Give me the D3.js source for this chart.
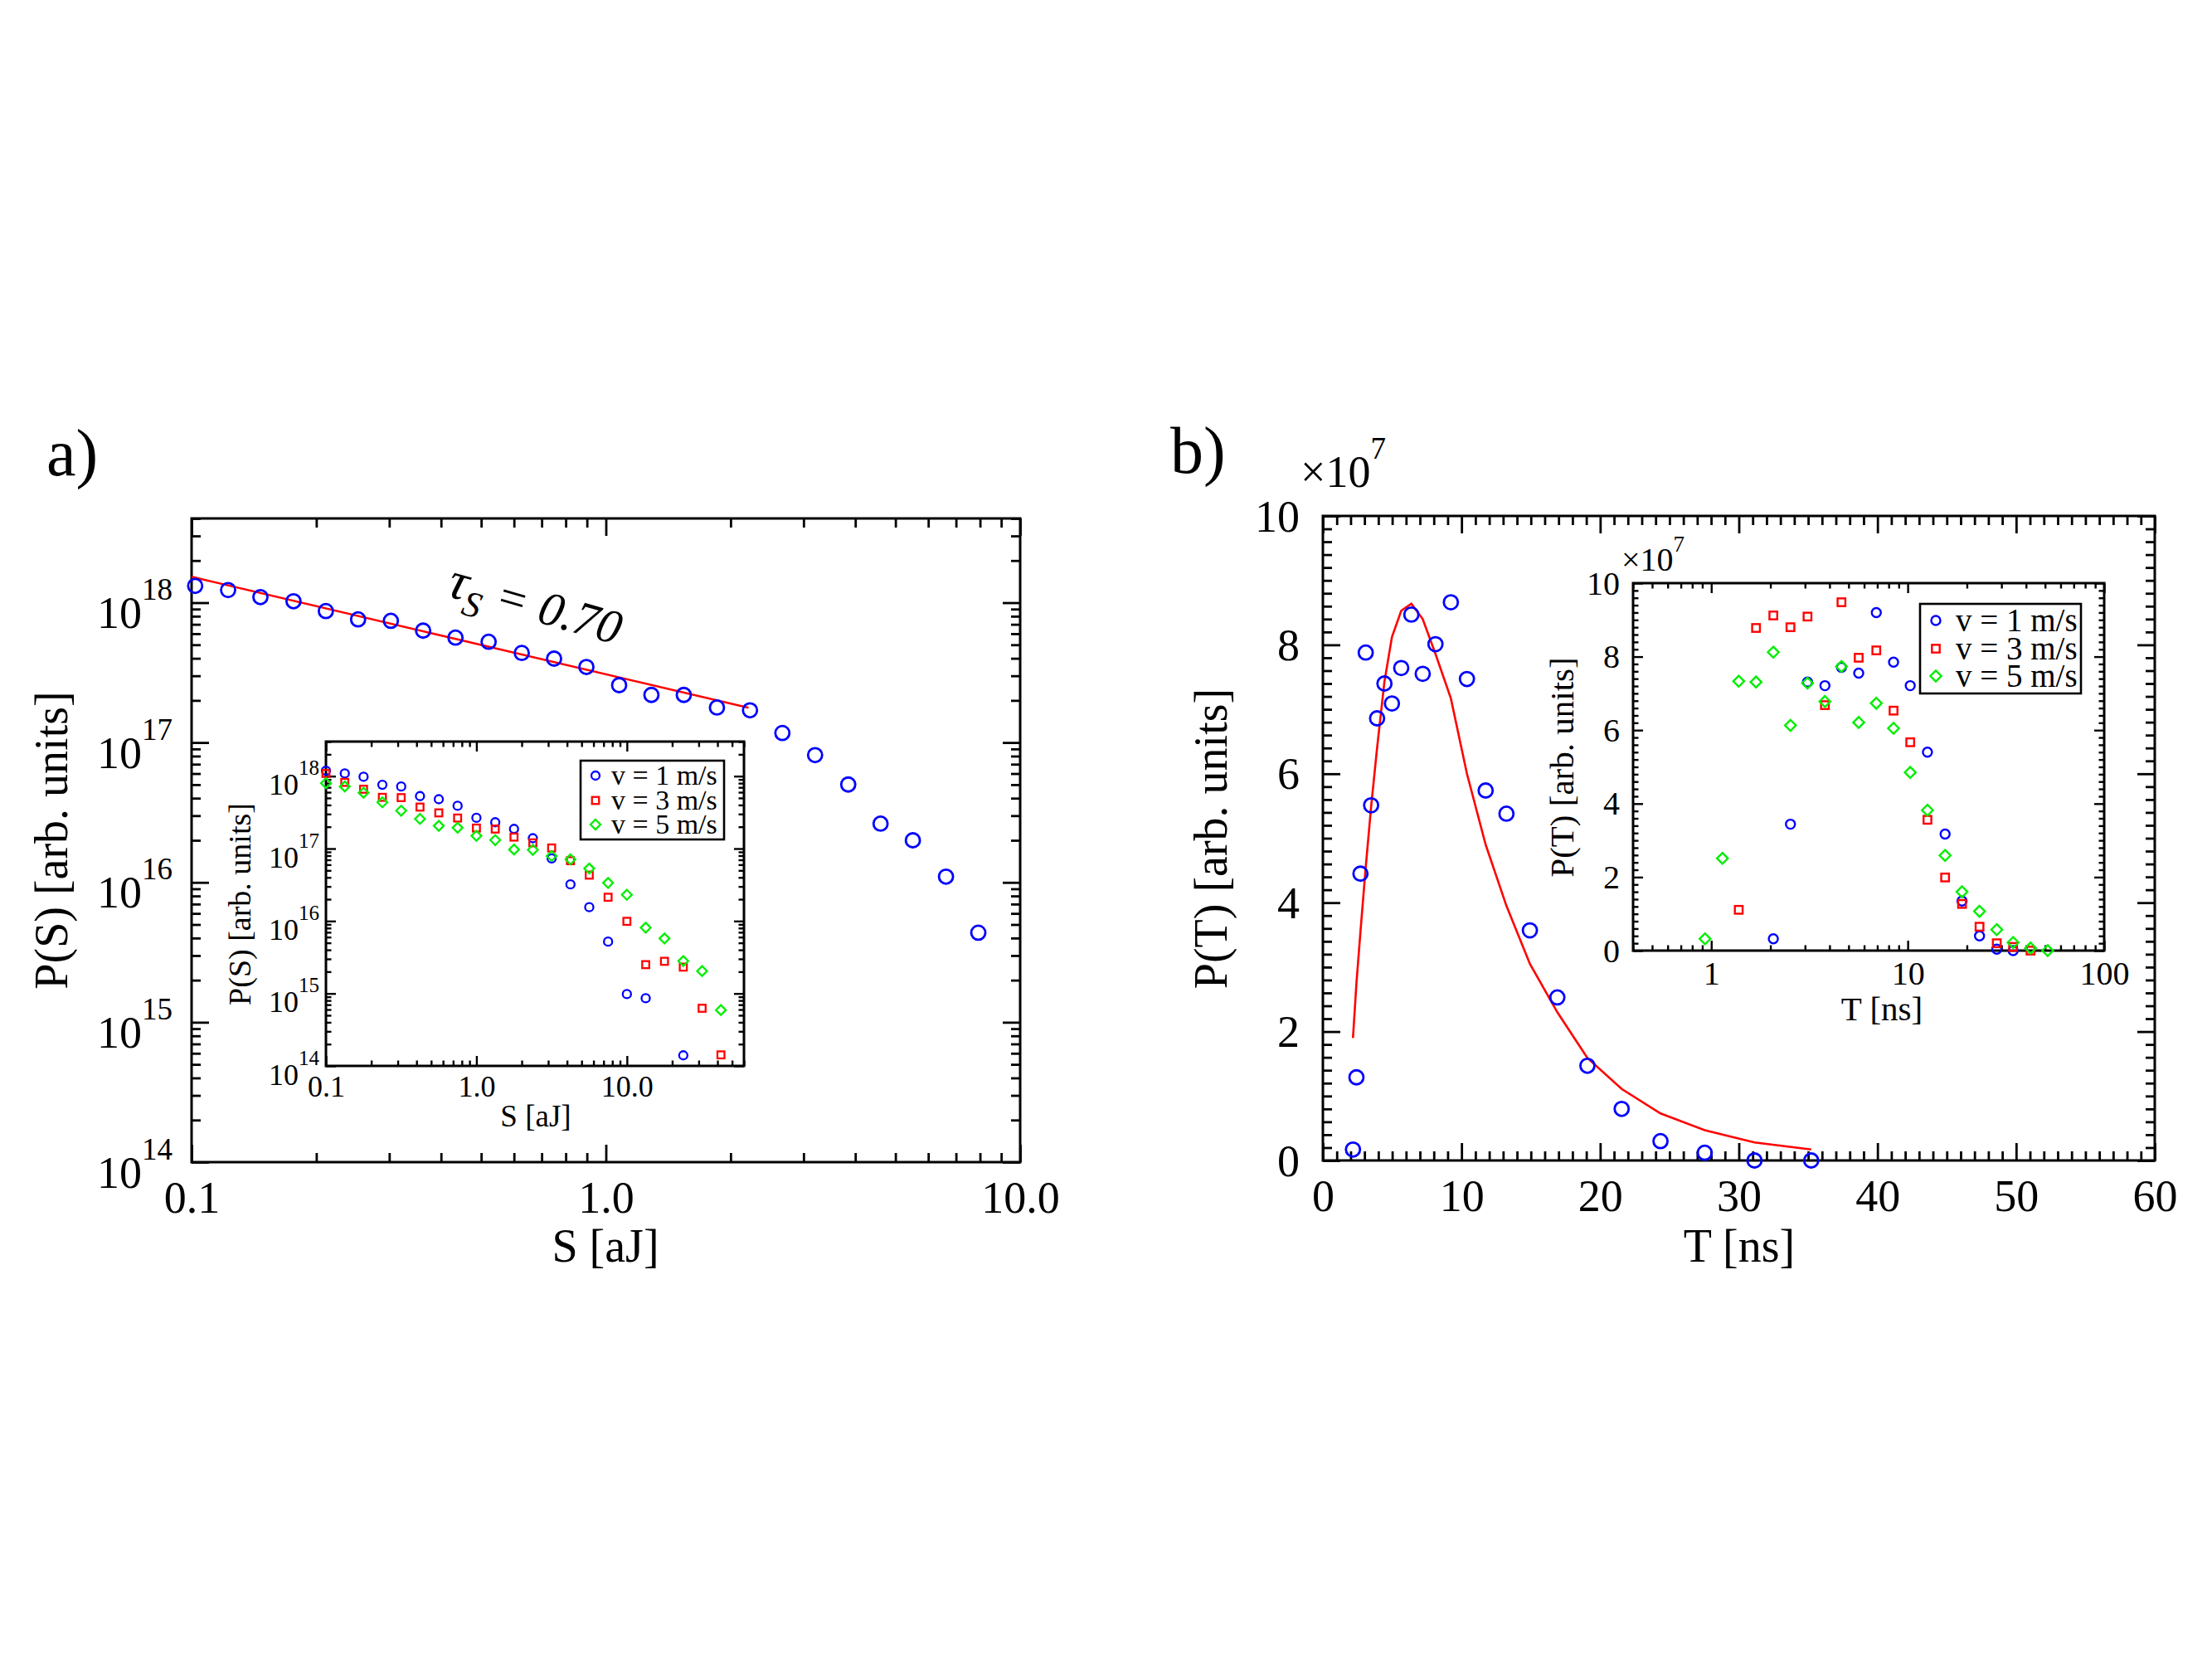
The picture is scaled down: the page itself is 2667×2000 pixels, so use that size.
<!DOCTYPE html>
<html>
<head>
<meta charset="utf-8">
<script src="https://cdn.jsdelivr.net/npm/d3@7"></script>
<style>
  body { margin: 0; background: #fff; }
  svg { display: block; }
</style>
</head>
<body>
<script>
// ---- panel a: avalanche size distribution ----
const sBins = [0.102, 0.1225, 0.1466, 0.1762, 0.2109, 0.2523, 0.3027, 0.3622, 0.4335, 0.5212, 0.6266, 0.7499, 0.8974,
  1.0765, 1.288, 1.542, 1.854, 2.228, 2.667, 3.199, 3.846, 4.603, 5.508, 6.622, 7.925];
const pS = [1.318e18, 1.23e18, 1.096e18, 1.023e18, 8.71e17, 7.59e17, 7.41e17, 6.31e17, 5.62e17, 5.25e17, 4.37e17, 3.98e17, 3.47e17,
  2.57e17, 2.19e17, 2.19e17, 1.78e17, 1.70e17, 1.17e17, 8.13e16, 5.01e16, 2.63e16, 2.0e16, 1.10e16, 4.37e15];
const fitS = [0.1, 2.21];
const fitPS = [1.53e18, 1.77e17];
const tauValue = "0.70";

// inset a, three driving velocities (null = no point)
const insetS = [0.1, 0.1334, 0.1778, 0.2371, 0.3162, 0.4217, 0.5623, 0.7499, 1.0, 1.334, 1.778, 2.371, 3.162, 4.217,
  5.623, 7.499, 10.0, 13.34, 17.78, 23.71, 31.62, 42.17];
const insetPS_v1 = [1.19e18, 1.09e18, 9.8e17, 7.6e17, 7.2e17, 5.3e17, 4.8e17, 3.9e17, 2.66e17, 2.31e17, 1.87e17, 1.39e17,
  7.3e16, 3.2e16, 1.55e16, 5.2e15, 9.8e14, 8.6e14, null, 1.4e14, null, null];
const insetPS_v3 = [1.09e18, 8.2e17, 6.6e17, 5.1e17, 5.05e17, 3.74e17, 3.11e17, 2.64e17, 1.92e17, 1.86e17, 1.44e17, 1.20e17,
  1.02e17, 6.8e16, 4.3e16, 2.13e16, 9.9e15, 2.5e15, 2.78e15, 2.31e15, 6.25e14, 1.42e14];
const insetPS_v5 = [8.0e17, 7.2e17, 5.9e17, 4.35e17, 3.34e17, 2.57e17, 2.06e17, 1.94e17, 1.50e17, 1.31e17, 9.7e16, 9.6e16,
  7.9e16, 7.1e16, 5.3e16, 3.36e16, 2.3e16, 8.1e15, 5.75e15, 2.8e15, 2.04e15, 5.9e14];

// ---- panel b: duration distribution (values in units of 10^7) ----
const tBins = [2.17, 2.42, 2.71, 3.09, 3.48, 3.91, 4.44, 4.98, 5.65, 6.38, 7.20, 8.12, 9.23, 10.39, 11.74, 13.24,
  14.93, 16.91, 19.08, 21.55, 24.35, 27.54, 31.13, 35.22];
const pT = [0.17, 1.29, 4.45, 7.88, 5.51, 6.86, 7.40, 7.09, 7.64, 8.47, 7.55, 8.01, 8.66, 7.47, 5.74, 5.38,
  3.57, 2.53, 1.47, 0.80, 0.30, 0.12, 0.0, 0.0];
const fitPT = [1.90, 2.75, 3.55, 4.55, 5.49, 6.40, 7.43, 8.12, 8.53, 8.64, 8.40, 7.86, 7.17, 6.0, 4.9, 3.95,
  3.05, 2.30, 1.59, 1.11, 0.73, 0.47, 0.28, 0.17];

// inset b
const insetT = [0.93, 1.14, 1.38, 1.69, 2.07, 2.53, 3.09, 3.79, 4.60, 5.63, 6.92, 8.47, 10.3, 12.6, 15.5, 18.9,
  23.2, 28.4, 34.4, 42.2, 51.6];
const insetPT_v1 = [null, null, null, null, 0.32, 3.44, 7.31, 7.21, 7.71, 7.55, 9.20, 7.85, 7.21, 5.40, 3.17, 1.35,
  0.40, 0.04, 0.0, null, null];
const insetPT_v3 = [null, null, 1.11, 8.78, 9.12, 8.80, 9.09, 6.68, 9.48, 7.97, 8.17, 6.53, 5.67, 3.56, 1.99, 1.27,
  0.65, 0.20, 0.10, 0.0, null];
const insetPT_v5 = [0.32, 2.51, 7.33, 7.31, 8.12, 6.13, 7.28, 6.78, 7.73, 6.21, 6.73, 6.05, 4.85, 3.82, 2.59, 1.60,
  1.07, 0.57, 0.22, 0.07, 0.0];

const legendNames = ["v = 1 m/s", "v = 3 m/s", "v = 5 m/s"];
const seriesColors = ["#0000ff", "#ff0000", "#00ee00"];
const seriesMarks = ["circle", "square", "diamond"];

const FONT = "'Liberation Serif', 'Times New Roman', Times, serif";

const svg = d3.select("body").append("svg")
  .attr("width", 2667)
  .attr("height", 2000)
  .style("background", "#fff");

const isPow10 = d => Math.abs(Math.log10(d) - Math.round(Math.log10(d))) < 1e-9;
const isMult = m => d => Math.abs(d / m - Math.round(d / m)) < 1e-9;

// four-sided frame with inward ticks, labels on bottom and left
function drawAxes(x, y, o) {
  const [xl, xr] = x.range();
  const [yb, yt] = y.range();
  const g = svg.append("g").attr("font-family", FONT);
  const xs = x.ticks(o.xn), ys = y.ticks(o.yn);
  const xMaj = xs.filter(o.xMajor), xMin = xs.filter(d => !o.xMajor(d));
  const yMaj = ys.filter(o.yMajor), yMin = ys.filter(d => !o.yMajor(d));

  const sides = [
    [() => d3.axisBottom(x), `translate(0,${yb})`, xMaj, xMin, "x"],
    [() => d3.axisTop(x), `translate(0,${yt})`, xMaj, xMin, null],
    [() => d3.axisLeft(y), `translate(${xl},0)`, yMaj, yMin, "y"],
    [() => d3.axisRight(y), `translate(${xr},0)`, yMaj, yMin, null]
  ];
  sides.forEach(([make, tr, maj, min, lab]) => {
    g.append("g").attr("transform", tr)
      .call(make().tickValues(min).tickSizeInner(-o.minor).tickSizeOuter(0).tickFormat(""));
    const a = g.append("g").attr("transform", tr)
      .call(make().tickValues(maj).tickSizeInner(-o.major).tickSizeOuter(0)
        .tickPadding(lab === "y" ? o.yPad : 0)
        .tickFormat(lab === "x" ? o.xFmt : lab === "y" ? (o.yPow ? "" : o.yFmt) : ""));
    a.attr("font-family", FONT);
    if (lab === "x") {
      a.attr("font-size", o.xfs);
      a.selectAll(".tick text").attr("y", o.xLabelY).attr("dy", 0);
    }
    if (lab === "y") {
      a.attr("font-size", o.yfs);
      a.selectAll(".tick text").attr("dy", o.yDy);
      if (o.yPow) {
        a.selectAll(".tick text").each(function (d) {
          const t = d3.select(this);
          t.append("tspan").text("10");
          t.append("tspan").attr("font-size", o.supFs).attr("dy", -o.supRaise)
            .text(Math.round(Math.log10(d)));
        });
      }
    }
  });
  g.selectAll(".domain").remove();
  g.selectAll(".tick line").attr("stroke", "#000").attr("stroke-width", o.tw);
  g.selectAll(".tick text").attr("fill", "#000");

  svg.append("rect")
    .attr("x", xl).attr("y", yt)
    .attr("width", xr - xl).attr("height", yb - yt)
    .attr("fill", "none").attr("stroke", "#000").attr("stroke-width", o.fw);
}

function marker(g, type, cx, cy, s, color, sw) {
  if (type === "circle") {
    g.append("circle").attr("cx", cx).attr("cy", cy).attr("r", s)
      .attr("fill", "none").attr("stroke", color).attr("stroke-width", sw);
  } else if (type === "square") {
    g.append("rect").attr("x", cx - s * 0.85).attr("y", cy - s * 0.85)
      .attr("width", s * 1.7).attr("height", s * 1.7)
      .attr("fill", "none").attr("stroke", color).attr("stroke-width", sw);
  } else {
    const r = s * 1.2;
    g.append("path").attr("d", `M${cx},${cy - r}L${cx + r},${cy}L${cx},${cy + r}L${cx - r},${cy}Z`)
      .attr("fill", "none").attr("stroke", color).attr("stroke-width", sw);
  }
}

function series(x, y, xs, ys, type, s, color, sw) {
  const g = svg.append("g");
  xs.forEach((v, i) => {
    if (ys[i] === null || ys[i] === undefined) return;
    marker(g, type, x(v), y(ys[i]), s, color, sw);
  });
}

function label(x, y, str, fs, opts = {}) {
  const t = svg.append("text")
    .attr("x", x).attr("y", y)
    .attr("font-family", FONT).attr("font-size", fs)
    .attr("text-anchor", opts.anchor || "middle")
    .attr("fill", "#000")
    .text(str);
  if (opts.rotate) t.attr("transform", `rotate(${opts.rotate},${x},${y})`);
  return t;
}

function timesTen(x, y, fs, supFs, raise, exp) {
  const t = svg.append("text").attr("x", x).attr("y", y)
    .attr("font-family", FONT).attr("font-size", fs).attr("fill", "#000");
  t.append("tspan").text("\u00d710");
  t.append("tspan").attr("font-size", supFs).attr("dy", -raise).text(exp);
}

function legend(x0, y0, w, h, symX, textX, rows, fs, s, sw) {
  svg.append("rect").attr("x", x0).attr("y", y0).attr("width", w).attr("height", h)
    .attr("fill", "#fff").attr("stroke", "#000").attr("stroke-width", 2.6);
  const g = svg.append("g");
  legendNames.forEach((n, i) => {
    marker(g, seriesMarks[i], symX, rows[i], s, seriesColors[i], sw);
    g.append("text").attr("x", textX).attr("y", rows[i] + fs * 0.33)
      .attr("font-family", FONT).attr("font-size", fs).attr("fill", "#000").text(n);
  });
}

// ================= panel a =================
const xA = d3.scaleLog().domain([0.1, 10]).range([231, 1230]);
const yA = d3.scaleLog().domain([1e14, 4e18]).range([1401, 625]);
drawAxes(xA, yA, {
  xn: 10, yn: 10, xMajor: isPow10, yMajor: isPow10,
  major: 21, minor: 11, tw: 2.8, fw: 3,
  xFmt: d => d < 1 ? String(d) : d.toFixed(1), xfs: 54, xLabelY: 61,
  yPow: true, yfs: 54, yPad: 23, yDy: 30, supFs: 37, supRaise: 34
});
svg.append("path")
  .datum(fitS.map((s, i) => [s, fitPS[i]]))
  .attr("d", d3.line().x(d => xA(d[0])).y(d => yA(d[1])))
  .attr("fill", "none").attr("stroke", "#ff0000").attr("stroke-width", 2.6);
series(xA, yA, sBins, pS, "circle", 8.5, "#0000ff", 2.8);

const ann = svg.append("text")
  .attr("transform", "translate(537,718) rotate(16)")
  .attr("font-family", FONT).attr("font-style", "italic").attr("fill", "#000");
ann.append("tspan").attr("font-size", 64).text("\u03c4");
ann.append("tspan").attr("font-size", 44).attr("dy", 16).text("S");
ann.append("tspan").attr("font-size", 58).attr("dy", -16).text(" = " + tauValue);

label(730, 1521, "S [aJ]", 56);
label(81, 1013, "P(S) [arb. units]", 56, { rotate: -90 });
label(56, 573, "a)", 80, { anchor: "start" });

// inset a
const xAi = d3.scaleLog().domain([0.1, 60]).range([393, 897]);
const yAi = d3.scaleLog().domain([1e14, 3e18]).range([1285, 894]);
svg.append("rect").attr("x", 393).attr("y", 894).attr("width", 504).attr("height", 391).attr("fill", "#fff");
drawAxes(xAi, yAi, {
  xn: 10, yn: 10, xMajor: isPow10, yMajor: isPow10,
  major: 12, minor: 6.5, tw: 2.4, fw: 3,
  xFmt: d => d < 1 ? String(d) : d.toFixed(1), xfs: 36, xLabelY: 37,
  yPow: true, yfs: 36, yPad: 8, yDy: 22, supFs: 25, supRaise: 24
});
[insetPS_v1, insetPS_v3, insetPS_v5].forEach((ys, i) =>
  series(xAi, yAi, insetS, ys, seriesMarks[i], 5, seriesColors[i], 2.3));
legend(700, 917, 173, 95, 718, 737, [935, 965, 994], 34, 5, 2.3);
label(646, 1358, "S [aJ]", 37);
label(302, 1090, "P(S) [arb. units]", 38, { rotate: -90 });

// ================= panel b =================
const xB = d3.scaleLinear().domain([0, 60]).range([1595, 2598]);
const yB = d3.scaleLinear().domain([0, 10]).range([1399, 622]);
drawAxes(xB, yB, {
  xn: 60, yn: 50, xMajor: isMult(10), yMajor: isMult(2),
  major: 21, minor: 11, tw: 2.8, fw: 3,
  xFmt: d3.format("d"), xfs: 54, xLabelY: 61,
  yPow: false, yFmt: d3.format("d"), yfs: 54, yPad: 28, yDy: 18
});
svg.append("path")
  .datum(tBins.map((t, i) => [t, fitPT[i]]))
  .attr("d", d3.line().x(d => xB(d[0])).y(d => yB(d[1])))
  .attr("fill", "none").attr("stroke", "#ff0000").attr("stroke-width", 2.6);
series(xB, yB, tBins, pT, "circle", 8.5, "#0000ff", 2.8);
timesTen(1568, 587, 54, 37, 34, "7");
label(2097, 1521, "T [ns]", 56);
label(1479, 1011, "P(T) [arb. units]", 56, { rotate: -90 });
label(1411, 570, "b)", 80, { anchor: "start" });

// inset b
const xBi = d3.scaleLog().domain([0.4, 100]).range([1969, 2537]);
const yBi = d3.scaleLinear().domain([0, 10]).range([1146, 703]);
svg.append("rect").attr("x", 1969).attr("y", 703).attr("width", 568).attr("height", 443).attr("fill", "#fff");
drawAxes(xBi, yBi, {
  xn: 10, yn: 50, xMajor: isPow10, yMajor: isMult(2),
  major: 12, minor: 6.5, tw: 2.4, fw: 3,
  xFmt: d3.format("d"), xfs: 40, xLabelY: 41,
  yPow: false, yFmt: d3.format("d"), yfs: 40, yPad: 16, yDy: 13
});
[insetPT_v1, insetPT_v3, insetPT_v5].forEach((ys, i) =>
  series(xBi, yBi, insetT, ys, seriesMarks[i], 5.5, seriesColors[i], 2.4));
legend(2315, 728, 194, 108, 2334, 2358, [748, 782, 815], 39, 5.5, 2.4);
timesTen(1955, 688, 40, 27, 23, "7");
label(2269, 1230, "T [ns]", 41);
label(1897, 925, "P(T) [arb. units]", 41, { rotate: -90 });
</script>
</body>
</html>
